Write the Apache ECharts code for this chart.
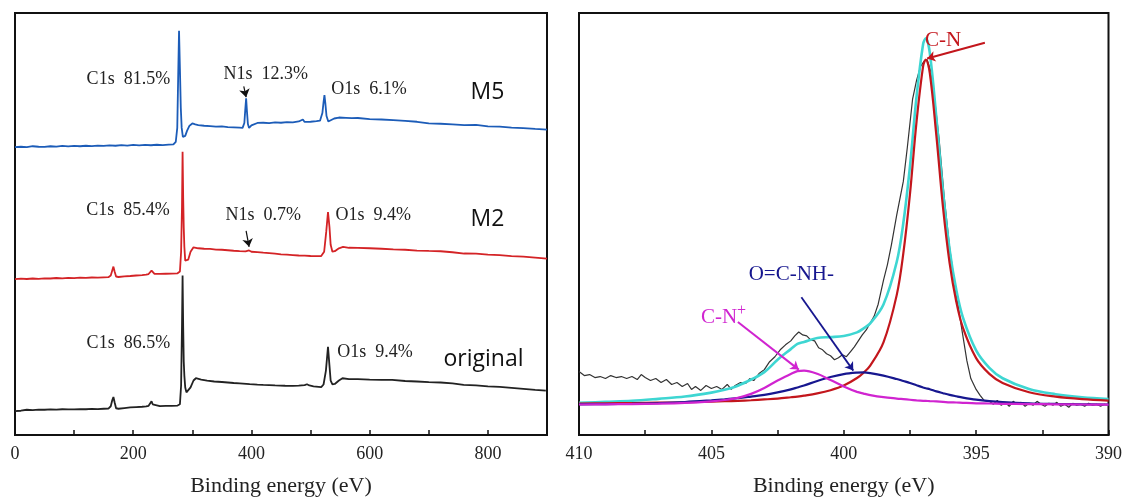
<!DOCTYPE html>
<html>
<head>
<meta charset="utf-8">
<script src="https://cdn.jsdelivr.net/npm/echarts@6/dist/echarts.min.js"></script>
<style>
  html, body { margin: 0; padding: 0; background: #fff; }
  #chart { width: 1125px; height: 502px; }
</style>
</head>
<body>
<div id="chart"></div>
<script>
// survey spectra (left), intensity in arbitrary units with offsets already included
const m5Energy = [0, 10, 20, 30, 40, 50, 60, 70, 80, 90, 100, 110, 120, 130, 140, 150, 160, 170, 180, 190, 200, 210, 220, 230, 240, 250, 260, 268, 272, 274.5, 276, 277.5, 279, 280.5, 282, 284, 286, 288, 291, 295, 300, 305, 310, 320, 330, 340, 350, 360, 370, 380, 385, 388, 389.5, 391, 392.5, 394, 396, 400, 410, 420, 430, 440, 450, 460, 470, 480, 487, 490, 500, 510, 516, 520, 522, 523.5, 525, 527, 530, 535, 540, 548, 560, 570, 580, 600, 620, 640, 660, 680, 700, 720, 740, 760, 780, 800, 820, 840, 860, 880, 900];
const m5Counts = [290.5, 291, 290.5, 291.5, 291, 290.8, 291.5, 291.2, 291.8, 291.4, 291.9, 291.5, 292, 291.6, 292.2, 291.8, 292.4, 292, 292.6, 292.2, 292.8, 292.4, 292.9, 292.5, 293, 292.7, 293.2, 293.4, 296, 310, 360, 408, 370, 330, 310, 301, 299.5, 302, 307, 312, 314.5, 313.5, 312.8, 312.2, 311.8, 311.3, 311.5, 310.8, 310.5, 310.2, 310, 315, 328, 340, 326, 314, 310, 312.5, 315, 315.2, 314.8, 315.5, 315.2, 315.8, 315.6, 316.5, 318.5, 316, 316.2, 316.8, 317.3, 325, 336, 343, 335, 322, 316.5, 318, 319.5, 320.5, 320.2, 319.8, 320, 318.8, 318.5, 317.8, 317, 316.2, 314.5, 314.2, 313.5, 312.8, 313, 311.5, 311.3, 310.2, 309.8, 309, 308.3];

const m2Energy = [0, 10, 20, 30, 40, 50, 60, 70, 80, 90, 100, 110, 120, 130, 140, 150, 158, 162, 164.5, 166.5, 168.5, 171, 175, 185, 195, 205, 215, 222, 226, 229, 231, 233, 236, 245, 255, 265, 275, 279, 281, 282.5, 283.5, 284.5, 285.5, 286.5, 288, 290, 293, 297, 302, 310, 320, 330, 340, 350, 360, 370, 380, 390, 396, 400, 410, 420, 430, 440, 450, 460, 470, 480, 490, 500, 510, 518, 523, 526.5, 529.5, 532, 534, 537, 541, 548, 555, 565, 580, 600, 620, 640, 660, 680, 700, 720, 740, 760, 780, 800, 820, 840, 860, 880, 900];
const m2Counts = [157.3, 157.8, 157.5, 158, 157.6, 158.2, 158, 158.5, 158.2, 158.6, 158.4, 158.9, 158.6, 159, 158.8, 159.2, 159.3, 161, 166, 170, 165, 160, 159.5, 160.2, 160.5, 161, 161.4, 161.8, 162.5, 164, 166, 164, 162.6, 162.6, 162.8, 163, 163.2, 165, 185, 230, 286, 240, 209, 190, 176, 174, 177, 185, 189.5, 188.5, 188, 187.8, 187.2, 187, 186.5, 186, 185.6, 185.4, 186.3, 185, 184.6, 184, 183.5, 183, 182.4, 182, 181.6, 181.2, 181, 180.7, 180.5, 180.7, 185, 205, 225, 210, 192, 185, 185.5, 188.5, 189.8, 189, 188.8, 188.5, 188, 187.4, 187, 186.2, 185.8, 185.5, 184.5, 183.2, 183, 182.1, 181.5, 180.6, 180, 179, 178];

const origEnergy = [0, 10, 20, 30, 40, 50, 60, 70, 80, 90, 100, 110, 120, 130, 140, 150, 158, 162, 164.5, 166.5, 168.5, 171, 175, 185, 195, 205, 215, 222, 226, 229, 231, 233, 236, 245, 255, 265, 275, 279, 281, 282.5, 283.5, 284.5, 285.5, 286.5, 288, 290, 293, 297, 302, 306, 315, 325, 337, 350, 360, 370, 380, 397, 410, 420, 440, 457, 470, 480, 490, 494, 498, 505, 518, 522, 526, 529.5, 532, 534, 537, 541, 548, 554, 565, 580, 600, 620, 638, 660, 680, 700, 720, 740, 759, 780, 800, 820, 840, 860, 880, 898];
const origCounts = [24, 24.5, 25.5, 25.2, 25.7, 25.5, 25.8, 25.6, 26, 25.8, 25.9, 26.1, 26, 26.3, 26.2, 26.5, 26.7, 29, 35, 38.3, 33, 27, 26.5, 27.2, 27.8, 28.2, 28.5, 28.8, 29.5, 31.5, 34, 31, 29, 29.2, 29.4, 29.5, 29.7, 31, 50, 110, 161, 110, 74, 60, 48, 43, 42.3, 48, 55, 57.3, 56, 55, 54, 53.5, 53, 52.5, 52.2, 51.3, 50.8, 50.5, 50, 49.7, 49.5, 49.8, 50.3, 51.2, 50, 49, 48.3, 51, 65, 89, 70, 55, 51, 51.5, 55, 57.3, 56.5, 56.5, 56, 55.7, 55.7, 54.5, 54, 53.4, 53, 52.2, 50.7, 50, 49, 48.5, 47.5, 46.5, 45.5, 44.7];

// N1s high resolution (right)
const rawEnergy = [410.0, 409.8, 409.6, 409.4, 409.2, 409.0, 408.8, 408.6, 408.4, 408.2, 408.0, 407.8, 407.65, 407.5, 407.3, 407.1, 406.9, 406.7, 406.5, 406.3, 406.1, 405.9, 405.75, 405.6, 405.4, 405.2, 405.0, 404.8, 404.6, 404.4, 404.25, 404.1, 403.9, 403.7, 403.55, 403.4, 403.2, 403.0, 402.8, 402.6, 402.4, 402.2, 402.0, 401.85, 401.7, 401.55, 401.4, 401.25, 401.1, 400.95, 400.8, 400.65, 400.5, 400.35, 400.2, 400.05, 399.9, 399.75, 399.6, 399.45, 399.3, 399.15, 399.0, 398.85, 398.7, 398.5, 398.35, 398.2, 398.0, 397.75, 397.6, 397.4, 397.25, 397.1, 396.95, 396.85, 396.7, 396.55, 396.4, 396.2, 396.0, 395.8, 395.65, 395.5, 395.35, 395.2, 395.0, 394.85, 394.7, 394.5, 394.35, 394.2, 394.05, 393.9, 393.75, 393.6, 393.45, 393.3, 393.15, 393.0, 392.85, 392.7, 392.55, 392.4, 392.25, 392.1, 391.95, 391.8, 391.65, 391.5, 391.35, 391.2, 391.05, 390.9, 390.75, 390.6, 390.45, 390.3, 390.15, 390.0];
const rawCounts = [64, 60, 61, 58, 59, 57, 60, 58, 59, 57, 59, 56, 61, 58, 55, 57, 53, 56, 51, 53, 49, 52, 46, 49, 45, 50, 47, 49, 46, 51, 46, 50, 53, 52, 57, 55, 62, 66, 74, 79, 86, 91, 95, 100, 104, 101, 100, 96, 95, 88, 86, 82, 80, 76, 78, 81, 79, 84, 89, 95, 101, 106, 113, 120, 132, 156, 172, 192, 222, 256, 290, 339, 358, 372, 378, 379, 366, 335, 299, 239, 189, 150, 125, 100, 75, 57, 46, 40, 35, 34, 31, 35, 30, 33, 29, 34, 31, 33, 29, 32, 30, 34, 31, 29, 32, 30, 33, 29, 31, 28, 32, 30, 31, 29, 32, 30, 31, 29, 31, 30];

const fitEnergy = [410, 409, 408, 407, 406, 405, 404.5, 404, 403.5, 403, 402.5, 402, 401.75, 401.5, 401, 400.5, 400, 399.5, 399.25, 399, 398.5, 398, 397.75, 397.5, 397.25, 397, 396.9, 396.75, 396.5, 396.25, 396, 395.75, 395.5, 395, 394.5, 394, 393, 392, 391, 390];
const envelope = [32.5, 33.5, 34.5, 36.5, 38.8, 42.8, 45.7, 49.8, 56, 63.5, 76, 86.7, 92, 94, 98, 98.8, 100, 103.6, 107.7, 112.7, 131.7, 174.6, 214, 271, 341.7, 395, 400.5, 385.8, 319.7, 245.4, 186.9, 146.6, 118.8, 85.4, 67.8, 57.3, 46.4, 41.2, 38.1, 36.4];
const peakCN = [31.8, 32, 32.3, 32.6, 33, 33.7, 34.1, 34.5, 35.1, 35.9, 36.8, 38.1, 38.8, 39.7, 42, 45.2, 49.9, 57.5, 62.9, 70.1, 93.4, 141.2, 183.3, 242.9, 316.4, 372.6, 379, 365.3, 301.7, 229.6, 173.3, 134.6, 108.4, 77.6, 61.7, 52.5, 43.1, 38.7, 36.2, 34.8];
const peakAmide = [31, 31.2, 31.5, 32.2, 33.3, 35, 36, 37.2, 38.8, 40.5, 43, 46, 48, 50, 54.5, 58.5, 61.5, 63, 63.2, 62.5, 60, 56.5, 54.5, 52.5, 50.2, 48, 47.2, 46.2, 44, 42.2, 40.5, 39.1, 37.8, 35.7, 34.2, 33.2, 32, 31.4, 31, 30.8];
const peakCNplus = [30.8, 31, 31.2, 31.6, 32.4, 34, 35.3, 37.5, 41.5, 47.5, 55, 61.5, 64.5, 65, 61.8, 55.5, 49, 43.5, 41.8, 40.3, 38.2, 36.8, 36.2, 35.6, 35, 34.5, 34.4, 34.2, 33.9, 33.5, 33, 32.8, 32.5, 32, 31.8, 31.5, 31.2, 31, 30.8, 30.7];

const serif = '"Liberation Serif", "Times New Roman", serif';
const sans = '"Open Sans", "Noto Sans", sans-serif';

function pairs(xs, ys) {
    return xs.map(function (x, i) { return [x, ys[i]]; });
}

// text placed in data coordinates
function note(text, x, y, color, font, size) {
    return {
        name: text, coord: [x, y],
        label: { color: color, fontFamily: font, fontSize: size }
    };
}

function arrow(x1, y1, x2, y2) {
    return [{ coord: [x1, y1] }, { coord: [x2, y2] }];
}

function marks(points, arrows, arrowColor, arrowWidth) {
    return {
        markPoint: {
            symbol: 'circle', symbolSize: 0, silent: true,
            label: { show: true, position: 'inside', formatter: function (p) { return p.name; } },
            data: points
        },
        markLine: {
            silent: true, symbol: ['none', 'arrow'], symbolSize: 8,
            label: { show: false },
            lineStyle: { type: 'solid', color: arrowColor, width: arrowWidth },
            emphasis: { disabled: true },
            data: arrows
        }
    };
}

function survey(name, xs, ys, color, extra) {
    return Object.assign({
        name: name, type: 'line', xAxisIndex: 0, yAxisIndex: 0,
        data: pairs(xs, ys), symbol: 'none',
        lineStyle: { color: color, width: 1.8 }
    }, extra);
}

function fitLine(name, ys, color, width, extra) {
    return Object.assign({
        name: name, type: 'line', xAxisIndex: 1, yAxisIndex: 1,
        data: pairs(fitEnergy, ys), symbol: 'none', smooth: 0.35,
        lineStyle: { color: color, width: width }
    }, extra);
}

function xAxisBase(grid, min, max, step, labelStep, inverse) {
    return {
        type: 'value', gridIndex: grid, min: min, max: max, interval: step, inverse: inverse,
        axisLine: { lineStyle: { color: '#111', width: 2 } },
        axisTick: { inside: true, length: 5, lineStyle: { color: '#111', width: 1.5 } },
        axisLabel: {
            margin: 10, fontFamily: serif, fontSize: 18, color: '#222',
            formatter: function (v) { return v % labelStep === 0 ? String(v) : ''; }
        },
        splitLine: { show: false },
        name: 'Binding energy (eV)', nameLocation: 'middle', nameGap: 40,
        nameTextStyle: { fontFamily: serif, fontSize: 22, color: '#222' }
    };
}

let option = {
    animation: false,
    backgroundColor: '#fff',
    grid: [
        { left: 15, top: 13, width: 532, height: 426, show: true, borderColor: '#111', borderWidth: 2 },
        { left: 579, top: 13, width: 531, height: 426, show: true, borderColor: '#111', borderWidth: 2 }
    ],
    xAxis: [
        xAxisBase(0, 0, 900, 100, 200, false),
        xAxisBase(1, 390, 410, 2.5, 5, true)
    ],
    yAxis: [
        { type: 'value', gridIndex: 0, min: 0, max: 426, show: false },
        { type: 'value', gridIndex: 1, min: 0, max: 426, show: false }
    ],
    series: [
        survey('M5', m5Energy, m5Counts, '#1c5cb8', marks([
            note('C1s  81.5%', 191.8, 359, '#222', serif, 18),
            note('N1s  12.3%', 424, 364, '#222', serif, 18),
            note('O1s  6.1%', 599, 349, '#222', serif, 18),
            note('M5', 799.4, 346, '#111', sans, 23)
        ], [arrow(387, 352, 391, 341)], '#111', 1.2)),
        survey('M2', m2Energy, m2Counts, '#d42326', marks([
            note('C1s  85.4%', 191, 227.3, '#222', serif, 18),
            note('N1s  0.7%', 420, 222.3, '#222', serif, 18),
            note('O1s  9.4%', 606, 222.3, '#222', serif, 18),
            note('M2', 799.4, 217.3, '#111', sans, 23)
        ], [arrow(391, 206, 396, 190)], '#111', 1.2)),
        survey('original', origEnergy, origCounts, '#222', marks([
            note('C1s  86.5%', 191.8, 92.3, '#222', serif, 18),
            note('O1s  9.4%', 609, 84, '#222', serif, 18),
            note('original', 792.6, 76, '#111', sans, 23)
        ], [], '#111', 1.2)),

        {
            name: 'raw', type: 'line', xAxisIndex: 1, yAxisIndex: 1,
            data: pairs(rawEnergy, rawCounts), symbol: 'none',
            lineStyle: { color: '#333', width: 1.2 }
        },
        fitLine('envelope', envelope, '#3ed6d2', 2.6),
        fitLine('C-N', peakCN, '#c3161c', 2.2, marks([
            note('C-N', 396.25, 398, '#c3161c', serif, 21)
        ], [arrow(394.67, 396, 396.85, 380)], '#c3161c', 2)),
        fitLine('O=C-NH-', peakAmide, '#17178f', 2.2, marks([
            note('O=C-NH-', 401.98, 162, '#17178f', serif, 21)
        ], [arrow(401.6, 139, 399.64, 65)], '#17178f', 1.8)),
        fitLine('C-N+', peakCNplus, '#d024d0', 2.2, marks([
            {
                name: 'C-N+', coord: [404.54, 119],
                label: {
                    formatter: '{a|C-N}{b|+}',
                    rich: {
                        a: { color: '#d024d0', fontFamily: serif, fontSize: 21 },
                        b: { color: '#d024d0', fontFamily: serif, fontSize: 16, padding: [0, 0, 12, 0] }
                    }
                }
            }
        ], [arrow(404.0, 114, 401.7, 66)], '#d024d0', 2))
    ]
};

var chart = echarts.init(document.getElementById('chart'));
chart.setOption(option);
</script>
</body>
</html>
